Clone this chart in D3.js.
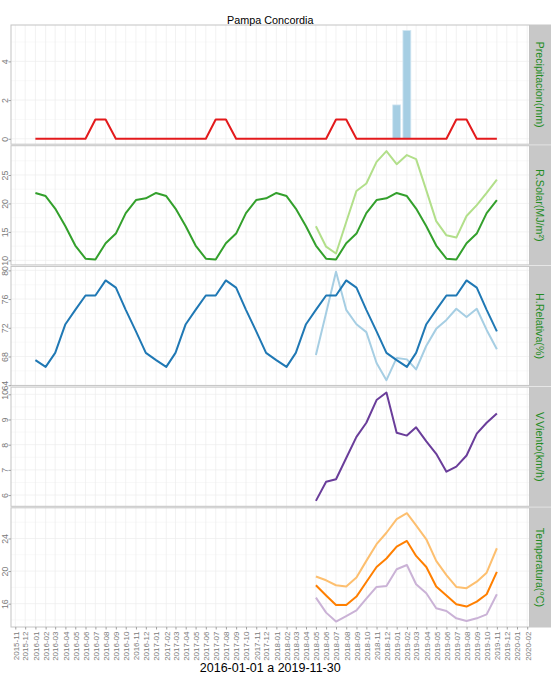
<!DOCTYPE html>
<html>
<head>
<meta charset="utf-8">
<script src="https://cdn.jsdelivr.net/npm/d3@7"></script>
<style>
  body { margin: 0; background: #fff; }
  svg { display: block; font-family: "Liberation Sans", Arial, sans-serif; }
</style>
</head>
<body>
<svg id="chart" width="551" height="675"></svg>
<script>
// Pampa Concordia - monthly normals vs observed, faceted panels
(function() {
  'use strict';

  // months covered by the normals (2016-01 .. 2019-11) and by the station (2018-05 .. 2019-11)
  const normalMonths = d3.timeMonth.range(new Date(2016, 0, 1), new Date(2019, 11, 1));
  const obsMonths = d3.timeMonth.range(new Date(2018, 4, 1), new Date(2019, 11, 1));

  // Precipitacion (mm)
  const precipNormal = [
    0, 0, 0, 0, 0, 0, 1, 1, 0, 0, 0, 0,
    0, 0, 0, 0, 0, 0, 1, 1, 0, 0, 0, 0,
    0, 0, 0, 0, 0, 0, 1, 1, 0, 0, 0, 0,
    0, 0, 0, 0, 0, 0, 1, 1, 0, 0, 0
  ];
  const precipObs = [0, 0, 0, 0, 0, 0, 0, 0, 1.75, 5.6, 0, 0, 0, 0, 0, 0, 0, 0, 0];

  // R.Solar (MJ/m2)
  const solarNormal = [
    21.85, 21.3, 19.1, 16.0, 12.6, 10.3, 10.15, 13.0, 14.7, 18.3, 20.6, 20.9,
    21.85, 21.3, 19.1, 16.0, 12.6, 10.3, 10.15, 13.0, 14.7, 18.3, 20.6, 20.9,
    21.85, 21.3, 19.1, 16.0, 12.6, 10.3, 10.15, 13.0, 14.7, 18.3, 20.6, 20.9,
    21.85, 21.3, 19.1, 16.0, 12.6, 10.3, 10.15, 13.0, 14.7, 18.3, 20.6
  ];
  const solarObs = [16.0, 12.4, 11.2, 16.75, 22.2, 23.5, 27.3, 29.2, 26.9, 28.5, 27.8, 22.3, 16.9, 14.4, 14.0, 17.8, 19.7, 21.85, 24.2];

  // H.Relativa (%)
  const humNormal = [
    67.5, 66.55, 68.5, 72.5, 74.5, 76.5, 76.5, 78.6, 77.6, 74.5, 71.5, 68.5,
    67.5, 66.55, 68.5, 72.5, 74.5, 76.5, 76.5, 78.6, 77.6, 74.5, 71.5, 68.5,
    67.5, 66.55, 68.5, 72.5, 74.5, 76.5, 76.5, 78.6, 77.6, 74.5, 71.5, 68.5,
    67.5, 66.55, 68.5, 72.5, 74.5, 76.5, 76.5, 78.6, 77.6, 74.5, 71.5
  ];
  const humObs = [68.2, 74.05, 79.8, 74.5, 72.5, 71.4, 67.1, 64.7, 67.8, 67.6, 66.2, 69.5, 71.85, 73.1, 74.65, 73.5, 74.65, 71.7, 69.0];

  // V.Viento (km/h)
  const windObs = [5.77, 6.53, 6.63, 7.47, 8.31, 8.87, 9.77, 10.07, 8.47, 8.36, 8.69, 8.13, 7.64, 6.93, 7.13, 7.57, 8.44, 8.87, 9.24];

  // Temperatura (C): max, mean, min
  const tempMax = [19.33, 18.87, 18.26, 18.1, 19.2, 21.25, 23.3, 24.7, 26.37, 27.1, 25.6, 23.9, 21.25, 19.5, 18.05, 17.9, 18.7, 19.8, 22.8];
  const tempMean = [18.26, 17.0, 15.83, 15.83, 16.87, 18.66, 20.5, 21.54, 23.0, 23.7, 21.86, 20.5, 18.1, 17.0, 15.92, 15.64, 16.25, 17.15, 19.9];
  const tempMin = [16.74, 14.9, 13.8, 14.48, 15.18, 16.62, 18.05, 18.17, 20.22, 20.75, 18.38, 17.27, 15.43, 15.1, 14.2, 13.87, 14.2, 14.69, 17.15];

  // tick labels
  const precipTicks = [0, 2, 4];
  const solarTicks = [10, 15, 20, 25];
  const humTicks = [64, 68, 72, 76, 80];
  const windTicks = [6, 7, 8, 9, 10];
  const tempTicks = [16, 20, 24];

  const stripLabels = ['Precipitacion(mm)', 'R.Solar(MJ/m²)', 'H.Relativa(%)', 'V.Viento(km/h)', 'Temperatura(°C)'];
  const title = 'Pampa Concordia';
  const xTitle = '2016-01-01 a 2019-11-30';

  const panels = [
    { ticks: precipTicks, bars: { dates: obsMonths, values: precipObs, color: '#a6cee3' },
      series: [{ dates: normalMonths, values: precipNormal, color: '#e31a1c' }] },
    { ticks: solarTicks,
      series: [{ dates: obsMonths, values: solarObs, color: '#b2df8a' },
               { dates: normalMonths, values: solarNormal, color: '#33a02c' }] },
    { ticks: humTicks,
      series: [{ dates: obsMonths, values: humObs, color: '#a6cee3' },
               { dates: normalMonths, values: humNormal, color: '#1f78b4' }] },
    { ticks: windTicks,
      series: [{ dates: obsMonths, values: windObs, color: '#6a3d9a' }] },
    { ticks: tempTicks,
      series: [{ dates: obsMonths, values: tempMax, color: '#fdbf6f' },
               { dates: obsMonths, values: tempMin, color: '#cab2d6' },
               { dates: obsMonths, values: tempMean, color: '#ff7f00' }] }
  ];

  // layout
  const W = 551;
  const left = 11, right = 529.5;
  const top0 = 25, panelH = 119.2, gap = 1.5;

  const svg = d3.select('#chart');

  const x = d3.scaleTime()
    .domain([new Date(2015, 9, 19), new Date(2020, 1, 8)])
    .range([left, right]);
  const xTicks = d3.timeMonth.range(new Date(2015, 10, 1), new Date(2020, 1, 2));

  let lastBottom = 0;

  panels.forEach((p, i) => {
    const y0 = top0 + i * (panelH + gap);
    const y1 = y0 + panelH;
    lastBottom = y1;

    let all = p.series.flatMap(s => s.values);
    if (p.bars) all = all.concat(p.bars.values);
    const [lo, hi] = d3.extent(all);
    const pad = (hi - lo) * 0.05;
    const y = d3.scaleLinear().domain([lo - pad, hi + pad]).range([y1, y0]);

    const g = svg.append('g');

    // minor horizontal grid, halfway between ticks
    const step = p.ticks[1] - p.ticks[0];
    const minor = d3.range(p.ticks[0] - step / 2, hi + pad, step)
      .filter(v => v > lo - pad && v < hi + pad);

    g.append('g').selectAll('line')
      .data(minor)
      .join('line')
      .attr('x1', left).attr('x2', right)
      .attr('y1', d => y(d)).attr('y2', d => y(d))
      .attr('stroke', '#f3f3f3')
      .attr('stroke-width', 0.6);

    g.append('g').selectAll('line')
      .data(xTicks)
      .join('line')
      .attr('x1', d => x(d)).attr('x2', d => x(d))
      .attr('y1', y0).attr('y2', y1)
      .attr('stroke', '#ececec')
      .attr('stroke-width', 0.7);

    g.append('g').selectAll('line')
      .data(p.ticks)
      .join('line')
      .attr('x1', left).attr('x2', right)
      .attr('y1', d => y(d)).attr('y2', d => y(d))
      .attr('stroke', '#ececec')
      .attr('stroke-width', 0.7);

    // bars
    if (p.bars) {
      const barData = p.bars.dates.map((d, k) => [d, p.bars.values[k]]).filter(d => d[1] > 0);
      g.append('g').selectAll('rect')
        .data(barData)
        .join('rect')
        .attr('x', d => x(d3.timeDay.offset(d[0], -12)))
        .attr('width', d => x(d3.timeDay.offset(d[0], 12)) - x(d3.timeDay.offset(d[0], -12)))
        .attr('y', d => y(d[1]))
        .attr('height', d => y(0) - y(d[1]))
        .attr('fill', p.bars.color)
        .attr('stroke', '#d3e7f2')
        .attr('stroke-width', 0.8);
    }

    // lines
    const line = d3.line()
      .x(d => x(d[0]))
      .y(d => y(d[1]));

    p.series.forEach(s => {
      g.append('path')
        .datum(s.dates.map((d, k) => [d, s.values[k]]))
        .attr('d', line)
        .attr('fill', 'none')
        .attr('stroke', s.color)
        .attr('stroke-width', 2)
        .attr('stroke-linejoin', 'round');
    });

    // panel border
    g.append('rect')
      .attr('x', left).attr('y', y0)
      .attr('width', right - left).attr('height', panelH)
      .attr('fill', 'none')
      .attr('stroke', '#c4c4c4')
      .attr('stroke-width', 1);

    // strip
    g.append('rect')
      .attr('x', right + 0.5).attr('y', y0 - 0.5)
      .attr('width', W - right).attr('height', panelH + 1)
      .attr('fill', '#c8c8c8');

    g.append('text')
      .attr('transform', `translate(540,${(y0 + y1) / 2}) rotate(90)`)
      .attr('text-anchor', 'middle')
      .attr('dy', '0.35em')
      .attr('fill', '#228b22')
      .style('font-size', '10.7px')
      .text(stripLabels[i]);

    // y axis
    const ax = g.append('g')
      .attr('transform', `translate(${left},0)`)
      .call(d3.axisLeft(y).tickValues(p.ticks).tickSize(2.5).tickFormat(d3.format('d')));
    ax.attr('font-family', null).attr('font-size', null);
    ax.select('.domain').remove();
    ax.selectAll('.tick line').attr('stroke', '#a0a0a0');
    ax.selectAll('.tick text')
      .attr('x', 0).attr('dy', 0)
      .attr('text-anchor', 'middle')
      .attr('transform', 'translate(-3,0) rotate(-90)')
      .attr('fill', '#7a7a7a')
      .style('font-size', '8.8px');
  });

  // x axis under last panel
  const xa = svg.append('g')
    .attr('transform', `translate(0,${lastBottom})`)
    .call(d3.axisBottom(x).tickValues(xTicks).tickSize(2.5).tickFormat(d3.timeFormat('%Y-%m')));
  xa.attr('font-family', null).attr('font-size', null);
  xa.select('.domain').remove();
  xa.selectAll('.tick line').attr('stroke', '#a0a0a0');
  xa.selectAll('.tick text')
    .attr('x', 0).attr('y', 0)
    .attr('dy', '0.35em')
    .attr('text-anchor', 'end')
    .attr('transform', 'translate(0,4.5) rotate(-90)')
    .attr('fill', '#7a7a7a')
    .style('font-size', '8px');

  // titles
  svg.append('text')
    .attr('x', (left + right) / 2).attr('y', 23.5)
    .attr('text-anchor', 'middle')
    .attr('fill', '#000')
    .style('font-size', '10.8px')
    .text(title);

  svg.append('text')
    .attr('x', (left + right) / 2).attr('y', 672)
    .attr('text-anchor', 'middle')
    .attr('fill', '#000')
    .style('font-size', '12.5px')
    .text(xTitle);
})();
</script>
</body>
</html>
